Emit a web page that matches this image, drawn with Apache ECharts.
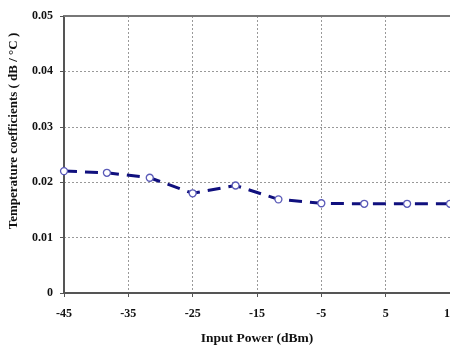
<!DOCTYPE html>
<html><head><meta charset="utf-8">
<script src="https://cdn.jsdelivr.net/npm/echarts@6/dist/echarts.min.js"></script>
<style>html,body{margin:0;padding:0;background:#fff}#c{width:450px;height:347px}</style>
</head><body><div id="c"></div>
<script>
var inputPower = [-45, -38.33, -31.67, -25, -18.33, -11.67, -5, 1.67, 8.33, 15];
var tempCoef = [0.0220, 0.0217, 0.0208, 0.0180, 0.0194, 0.0169, 0.0162, 0.0161, 0.0161, 0.0161];
var xTicks = [-45, -35, -25, -15, -5, 5, 15];
var yTicks = [0, 0.01, 0.02, 0.03, 0.04, 0.05];
var xTitle = 'Input Power (dBm)';
var yTitle = 'Temperature coefficients ( dB / °C )';

var font = '"Liberation Serif", "Times New Roman", serif';
var chart = echarts.init(document.getElementById('c'));
chart.setOption({
  animation: false,
  grid: {left: 64, top: 16, right: 0, bottom: 54, outerBoundsMode: 'none', containLabel: false},
  xAxis: [{
    type: 'value', min: -45, max: 15, interval: 10,
    name: xTitle, nameLocation: 'middle', nameGap: 39,
    nameTextStyle: {fontFamily: font, fontWeight: 'bold', fontSize: 13.5, color: '#111'},
    axisLine: {onZero: false, lineStyle: {color: '#555', width: 2}},
    axisTick: {show: true, length: 4, lineStyle: {color: '#555'}},
    axisLabel: {fontFamily: font, fontWeight: 'bold', fontSize: 12, color: '#111', margin: 15,
      formatter: function (v) { return String(v); }},
    splitLine: {show: true, lineStyle: {color: '#999', type: [2, 2], width: 1}}
  }, {
    type: 'value', position: 'top', min: -45, max: 15, interval: 10,
    axisLine: {show: true, onZero: false, lineStyle: {color: '#777', width: 2}},
    axisTick: {show: false}, axisLabel: {show: false}, splitLine: {show: false}
  }],
  yAxis: {
    type: 'value', min: 0, max: 0.05, interval: 0.01,
    axisLine: {show: true, onZero: false, lineStyle: {color: '#555', width: 2}},
    axisTick: {show: true, length: 4, lineStyle: {color: '#555'}},
    axisLabel: {fontFamily: font, fontWeight: 'bold', fontSize: 12, color: '#111', margin: 11,
      formatter: function (v) { return v === 0 ? '0' : v.toFixed(2); }},
    splitLine: {show: true, lineStyle: {color: '#999', type: [2, 2], width: 1}}
  },
  graphic: [{
    type: 'text', x: 14, y: 131, rotation: Math.PI / 2,
    style: {text: yTitle, font: 'bold 13px ' + font, fill: '#111', textAlign: 'center', textVerticalAlign: 'middle'}
  }],
  series: [{
    type: 'line',
    data: inputPower.map(function (x, i) { return [x, tempCoef[i]]; }),
    lineStyle: {color: '#10107e', width: 3, type: [13, 8]},
    symbol: 'circle', symbolSize: 7,
    itemStyle: {color: '#fff', borderColor: '#5a5ab8', borderWidth: 1.3}
  }]
});
</script></body></html>
